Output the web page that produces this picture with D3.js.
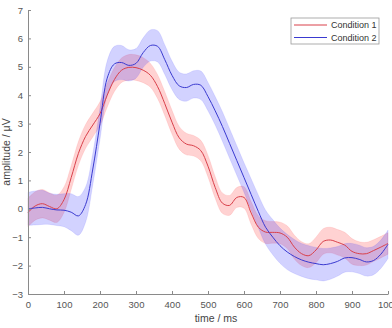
<!DOCTYPE html>
<html>
<head>
<meta charset="utf-8">
<script src="https://cdn.jsdelivr.net/npm/d3@7"></script>
<style>
  html, body { margin: 0; padding: 0; background: #fff; }
  svg { display: block; font-family: "Liberation Sans", Arial, sans-serif; }
  .axis path, .axis line { stroke: #8a8a8a; }
  .axis text { fill: #555; font-size: 9.5px; }
  .label { fill: #444; font-size: 10.5px; }
</style>
</head>
<body>
<svg id="chart" width="392" height="328"></svg>
<script>
const times = d3.range(0, 1001, 20);

const cond1Mean = [
  -0.13, 0.1, 0.18, 0.08, 0.0, 0.32, 1.1, 1.95, 2.55, 2.95,
  3.35, 4.0, 4.55, 4.88, 4.98, 4.97, 4.88, 4.7, 4.3, 3.7,
  3.05, 2.5, 2.28, 2.22, 2.05, 1.5, 0.75, 0.2, 0.12, 0.4,
  0.4, -0.15, -0.65, -0.82, -0.83, -0.85, -1.0, -1.35, -1.58, -1.65,
  -1.45, -1.15, -1.1, -1.18, -1.28, -1.5, -1.58, -1.58, -1.47, -1.35,
  -1.22
];
const cond1Err = [
  0.5, 0.5, 0.5, 0.48, 0.48, 0.45, 0.42, 0.42, 0.42, 0.42,
  0.42, 0.42, 0.42, 0.43, 0.45, 0.45, 0.44, 0.42, 0.42, 0.42,
  0.42, 0.4, 0.38, 0.36, 0.36, 0.38, 0.38, 0.36, 0.35, 0.35,
  0.38, 0.4, 0.4, 0.4, 0.38, 0.38, 0.4, 0.42, 0.42, 0.42,
  0.45, 0.45, 0.45, 0.45, 0.45, 0.45, 0.42, 0.4, 0.38, 0.38,
  0.38
];
const cond2Mean = [
  0.0, 0.03, 0.05, 0.0, -0.04, -0.05, -0.12, -0.25, 0.15, 1.4,
  3.0, 4.6, 5.1, 5.15, 5.05, 5.12, 5.5, 5.75, 5.72, 5.25,
  4.7, 4.33, 4.27, 4.38, 4.35, 3.95, 3.45, 2.9, 2.3, 1.7,
  1.1, 0.5, -0.1, -0.65, -1.0, -1.3, -1.52, -1.68, -1.8, -1.88,
  -1.93, -1.97, -1.93, -1.85, -1.73, -1.72, -1.78, -1.87, -1.82, -1.6,
  -1.25
];
const cond2Err = [
  0.58, 0.6, 0.6, 0.55, 0.55, 0.58, 0.65, 0.68, 0.62, 0.55,
  0.55, 0.6, 0.62, 0.6, 0.55, 0.52, 0.52, 0.55, 0.55, 0.52,
  0.5, 0.48, 0.48, 0.48, 0.5, 0.5, 0.5, 0.52, 0.52, 0.52,
  0.52, 0.55, 0.58, 0.6, 0.62, 0.62, 0.62, 0.6, 0.58, 0.58,
  0.57, 0.57, 0.55, 0.52, 0.5, 0.5, 0.5, 0.5, 0.5, 0.5,
  0.5
];

const xTicks = d3.range(0, 1001, 100);
const yTicks = d3.range(-3, 8, 1);
const seriesNames = ["Condition 1", "Condition 2"];

const series = [
  { name: seriesNames[0], mean: cond1Mean, err: cond1Err, line: "#d9404a", fill: "#ff2020" },
  { name: seriesNames[1], mean: cond2Mean, err: cond2Err, line: "#3a3ad0", fill: "#2020ff" }
];

const margin = { top: 10, right: 4, bottom: 34, left: 28 };
const width = 392, height = 328;
const svg = d3.select("#chart");

const x = d3.scaleLinear().domain([0, 1000]).range([margin.left, width - margin.right]);
const y = d3.scaleLinear().domain([-3, 7]).range([height - margin.bottom, margin.top]);

const area = d3.area()
  .x((d) => x(d.t))
  .y0((d) => y(d.m - d.e))
  .y1((d) => y(d.m + d.e))
  .curve(d3.curveCatmullRom);
const line = d3.line()
  .x((d) => x(d.t))
  .y((d) => y(d.m))
  .curve(d3.curveCatmullRom);

for (const s of series) {
  const pts = times.map((t, i) => ({ t, m: s.mean[i], e: s.err[i] }));
  svg.append("path")
    .datum(pts)
    .attr("d", area)
    .attr("fill", s.fill)
    .attr("fill-opacity", 0.2)
    .attr("stroke", s.fill)
    .attr("stroke-opacity", 0.12)
    .attr("stroke-width", 0.8);
  s.pts = pts;
}
for (const s of series) {
  svg.append("path")
    .datum(s.pts)
    .attr("d", line)
    .attr("fill", "none")
    .attr("stroke", s.line)
    .attr("stroke-width", 1);
}

// axes, ticks pointing inward like matlab
svg.append("g")
  .attr("class", "axis")
  .attr("transform", `translate(0,${height - margin.bottom})`)
  .call(d3.axisBottom(x).tickValues(xTicks).tickSizeInner(-3).tickSizeOuter(0).tickPadding(7).tickFormat(d3.format("d")));

svg.append("g")
  .attr("class", "axis")
  .attr("transform", `translate(${margin.left},0)`)
  .call(d3.axisLeft(y).tickValues(yTicks).tickSizeInner(-3).tickSizeOuter(0).tickPadding(5).tickFormat(d3.format("d")));

svg.append("text")
  .attr("class", "label")
  .attr("x", (margin.left + width - margin.right) / 2 + 8)
  .attr("y", 322)
  .attr("text-anchor", "middle")
  .text("time / ms");

svg.append("text")
  .attr("class", "label")
  .attr("transform", `translate(10,${(margin.top + height - margin.bottom) / 2}) rotate(-90)`)
  .attr("text-anchor", "middle")
  .text("amplitude / μV");

// legend
const legend = svg.append("g").attr("transform", "translate(291,18)");
legend.append("rect")
  .attr("width", 88).attr("height", 26)
  .attr("fill", "#fff").attr("stroke", "#9a9a9a").attr("stroke-width", 0.8);
series.forEach((s, i) => {
  const ly = 7 + i * 12.5;
  legend.append("line")
    .attr("x1", 3).attr("x2", 36).attr("y1", ly).attr("y2", ly)
    .attr("stroke", s.line).attr("stroke-width", 1);
  legend.append("text")
    .attr("x", 40).attr("y", ly + 3.3)
    .attr("fill", "#333").attr("font-size", "9px")
    .text(s.name);
});
</script>
</body>
</html>
